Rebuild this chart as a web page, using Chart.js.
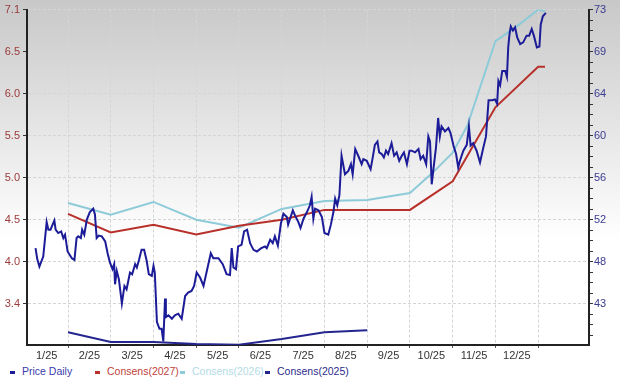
<!DOCTYPE html>
<html>
<head>
<meta charset="utf-8">
<style>
    html, body { margin: 0; padding: 0; background: #fff; }
    #wrap { position: relative; width: 620px; height: 379px; overflow: hidden;
            background: linear-gradient(#c8c8c8 0px, #ffffff 240px); }
    #chartBox { position: absolute; left: 0; top: 0; width: 620px; height: 362px; }
    #legend { position: absolute; left: 0; top: 362px; width: 620px; height: 17px;
              font: 10.5px "Liberation Sans", Arial, sans-serif; }
    #legend .item { position: absolute; top: 3px; white-space: nowrap; line-height: 12px; }
    #legend .mark { display: inline-block; width: 5px; height: 3px; vertical-align: middle; margin-right: 7px; }
</style>
</head>
<body>
<div id="wrap">
    <div id="chartBox"><canvas id="priceConsensusChart" width="620" height="362"></canvas></div>
    <div id="legend"></div>
</div>
<script src="https://cdn.jsdelivr.net/npm/chart.js"></script>
<script>
    // x positions are in months from 1 Jan 2025 (1 = start of Feb, ...)
    const monthLabels = ['1/25', '2/25', '3/25', '4/25', '5/25', '6/25', '7/25', '8/25', '9/25', '10/25', '11/25', '12/25'];
    const leftTickLabels = ['3.4', '4.0', '4.5', '5.0', '5.5', '6.0', '6.5', '7.1'];
    const rightTickLabels = ['43', '48', '52', '56', '60', '64', '69', '73'];

    const priceMonths = [0.24, 0.28, 0.33, 0.42, 0.50, 0.54, 0.59, 0.68, 0.71, 0.77,
        0.84, 0.89, 0.93, 0.99, 1.09, 1.15, 1.20, 1.24, 1.30, 1.33,
        1.38, 1.44, 1.51, 1.59, 1.63, 1.67, 1.72, 1.79, 1.87, 1.93,
        1.98, 2.04, 2.08, 2.10, 2.14, 2.19, 2.26, 2.32, 2.37, 2.45,
        2.50, 2.57, 2.61, 2.66, 2.72, 2.78, 2.84, 2.89, 2.96, 3.00,
        3.03, 3.08, 3.14, 3.19, 3.23, 3.27, 3.29, 3.35, 3.43, 3.50,
        3.58, 3.66, 3.74, 3.81, 3.89, 3.95, 4.01, 4.09, 4.17, 4.24,
        4.34, 4.40, 4.52, 4.62, 4.71, 4.79, 4.83, 4.87, 4.93, 4.98,
        5.06, 5.12, 5.19, 5.26, 5.34, 5.42, 5.52, 5.61, 5.65, 5.73,
        5.79, 5.84, 5.91, 5.98, 6.04, 6.12, 6.15, 6.26, 6.31, 6.39,
        6.44, 6.51, 6.59, 6.66, 6.70, 6.74, 6.78, 6.86, 6.94, 7.00,
        7.09, 7.15, 7.21, 7.25, 7.30, 7.35, 7.40, 7.48, 7.56, 7.62,
        7.66, 7.72, 7.79, 7.87, 7.91, 7.99, 8.08, 8.13, 8.18, 8.24,
        8.28, 8.34, 8.39, 8.44, 8.49, 8.57, 8.63, 8.69, 8.75, 8.81,
        8.86, 8.93, 8.99, 9.04, 9.12, 9.20, 9.25, 9.31, 9.38, 9.43,
        9.47, 9.51, 9.55, 9.61, 9.66, 9.70, 9.74, 9.82, 9.90, 9.95,
        10.02, 10.08, 10.13, 10.17, 10.25, 10.33, 10.38, 10.42, 10.48, 10.56,
        10.64, 10.71, 10.78, 10.84, 10.92, 10.99, 11.04, 11.07, 11.11, 11.16,
        11.23, 11.27, 11.30, 11.33, 11.36, 11.41, 11.46, 11.51, 11.58, 11.65,
        11.73, 11.79, 11.85, 11.90, 11.97, 12.03, 12.06, 12.11, 12.18];
    const priceDaily = [4.16, 4.03, 3.94, 4.06, 4.47, 4.38, 4.38, 4.49, 4.38, 4.34,
        4.36, 4.28, 4.32, 4.12, 4.04, 4.02, 4.28, 4.30, 4.28, 4.38,
        4.32, 4.50, 4.59, 4.63, 4.56, 4.28, 4.31, 4.30, 4.24, 4.09,
        3.99, 3.91, 3.97, 3.73, 3.89, 3.79, 3.50, 3.71, 3.67, 3.87,
        3.85, 3.97, 3.93, 4.02, 4.14, 4.14, 4.01, 3.85, 3.83, 3.95,
        3.87, 3.28, 3.20, 3.20, 3.05, 3.56, 3.34, 3.36, 3.32, 3.36,
        3.38, 3.32, 3.59, 3.63, 3.65, 3.71, 3.87, 3.81, 3.71, 3.87,
        4.10, 4.04, 4.04, 3.97, 3.85, 3.84, 4.16, 3.93, 3.91, 4.18,
        4.20, 4.36, 4.38, 4.22, 4.14, 4.12, 4.16, 4.18, 4.16, 4.26,
        4.22, 4.30, 4.19, 4.45, 4.57, 4.53, 4.44, 4.61, 4.55, 4.47,
        4.40, 4.51, 4.59, 4.67, 4.77, 4.51, 4.63, 4.61, 4.53, 4.34,
        4.32, 4.44, 4.59, 4.75, 4.67, 4.79, 5.26, 5.04, 5.08, 5.16,
        5.04, 5.34, 5.26, 5.16, 5.22, 5.20, 5.10, 5.24, 5.39, 5.43,
        5.30, 5.28, 5.24, 5.32, 5.28, 5.41, 5.26, 5.30, 5.20, 5.26,
        5.30, 5.16, 5.32, 5.32, 5.30, 5.34, 5.22, 5.26, 5.16, 5.49,
        5.43, 4.92, 5.10, 5.36, 5.71, 5.49, 5.61, 5.55, 5.59, 5.53,
        5.38, 5.28, 5.12, 5.20, 5.32, 5.39, 5.61, 5.38, 5.41, 5.32,
        5.18, 5.34, 5.49, 5.92, 5.92, 5.93, 5.88, 6.15, 6.10, 6.27,
        6.27, 6.20, 6.55, 6.71, 6.80, 6.75, 6.79, 6.67, 6.59, 6.61,
        6.69, 6.69, 6.77, 6.69, 6.55, 6.56, 6.82, 6.92, 6.96];

    const consensMonths2027 = [1, 2, 3, 4, 5, 6, 7, 8, 9, 10, 11, 12, 12.16];
    const consens2027 = [52.16, 50.25, 51.05, 50.05, 50.95, 51.56, 52.56, 52.56, 52.56, 55.48, 63.03, 67.16, 67.16];

    const consensMonths2026 = [1, 2, 3, 4, 5, 6, 7, 8, 9, 9.54, 10, 10.34, 11, 11.5, 12, 12.16];
    const consens2026 = [53.27, 52.06, 53.37, 51.56, 50.75, 52.66, 53.47, 53.57, 54.28, 56.39, 58.40, 61.12, 69.78, 71.29, 73.0, 72.8];

    const consensMonths2025 = [1, 2, 3, 4, 5, 6, 7, 8];
    const consens2025 = [40.08, 39.07, 39.07, 38.87, 38.80, 39.38, 40.08, 40.28];

    (() => {
        const tickFont = { family: '"Liberation Sans", Arial, sans-serif', size: 11 };
        const gridColour = '#d5d5d5';

        function toPoints(xs, ys) {
            return xs.map((x, i) => ({ x: x, y: ys[i] }));
        }

        const datasets = [
            { label: 'Price Daily', data: toPoints(priceMonths, priceDaily), yAxisID: 'y',
              borderColor: '#1c1c98', borderWidth: 2, legendText: '#3a3aab' },
            { label: 'Consens(2027)', data: toPoints(consensMonths2027, consens2027), yAxisID: 'y2',
              borderColor: '#b8302a', borderWidth: 2, legendText: '#c0413b' },
            { label: 'Consens(2026)', data: toPoints(consensMonths2026, consens2026), yAxisID: 'y2',
              borderColor: '#8ecbd9', borderWidth: 2, legendText: '#b3dbe5' },
            { label: 'Consens(2025)', data: toPoints(consensMonths2025, consens2025), yAxisID: 'y2',
              borderColor: '#25258f', borderWidth: 2, legendText: '#2b2b8c' }
        ];
        datasets.forEach(d => { d.pointRadius = 0; d.tension = 0; d.fill = false; });

        const ctx = document.getElementById('priceConsensusChart').getContext('2d');
        const chart = new Chart(ctx, {
            type: 'line',
            data: { datasets: datasets },
            options: {
                responsive: false,
                animation: false,
                devicePixelRatio: 1,
                layout: { padding: { top: 5, left: 0, right: 0, bottom: 0 } },
                plugins: { legend: { display: false }, tooltip: { enabled: false } },
                scales: {
                    x: {
                        type: 'linear',
                        min: 0.04,
                        max: 13.19,
                        afterBuildTicks: scale => {
                            const ticks = [];
                            for (let k = 0; k < monthLabels.length; k++) {
                                ticks.push({ value: k + 0.5 });
                                ticks.push({ value: k + 1 });
                            }
                            scale.ticks = ticks;
                        },
                        afterFit: scale => { scale.height = 17; },
                        ticks: {
                            autoSkip: false, maxRotation: 0, padding: 1,
                            color: '#333', font: tickFont,
                            callback: value => Number.isInteger(value) ? '' : monthLabels[Math.floor(value)]
                        },
                        grid: {
                            color: c => (c.tick && Number.isInteger(c.tick.value)) ? gridColour : 'rgba(0,0,0,0)',
                            tickColor: c => (c.tick && Number.isInteger(c.tick.value)) ? '#555' : 'rgba(0,0,0,0)',
                            tickLength: 3
                        },
                        border: { color: '#222', width: 2, dash: [3, 2] }
                    },
                    y: {
                        position: 'left',
                        min: 3.007,
                        max: 7.0,
                        afterBuildTicks: scale => {
                            scale.ticks = leftTickLabels.map((_, i) => ({ value: 3.5 + 0.5 * i }));
                        },
                        afterFit: scale => { scale.width = 27; },
                        ticks: {
                            autoSkip: false, padding: 3,
                            color: '#9b3a3a', font: tickFont,
                            callback: (value, index) => leftTickLabels[index]
                        },
                        grid: { color: gridColour, tickColor: '#333', tickLength: 4 },
                        border: { color: '#222', width: 2, dash: [3, 2] }
                    },
                    y2: {
                        position: 'right',
                        min: 38.77,
                        max: 73,
                        afterBuildTicks: scale => {
                            const step = 30 / 28;
                            const ticks = [];
                            for (let i = -3; i <= 28; i++) ticks.push({ value: 43 + i * step });
                            scale.ticks = ticks;
                        },
                        afterFit: scale => { scale.width = 31; },
                        ticks: {
                            autoSkip: false, padding: 1,
                            color: '#3b3b92', font: tickFont,
                            callback: (value, index) => {
                                const k = index - 3;
                                return (k >= 0 && k % 4 === 0) ? rightTickLabels[k / 4] : '';
                            }
                        },
                        grid: { drawOnChartArea: false, tickColor: '#333', tickLength: 4 },
                        border: { color: '#222', width: 2 }
                    }
                }
            }
        });

        // legend below the chart, fixed columns like the original
        const legend = document.getElementById('legend');
        chart.data.datasets.forEach((d, i) => {
            const item = document.createElement('span');
            item.className = 'item';
            item.style.left = (10 + i * 85) + 'px';
            item.style.color = d.legendText;
            const mark = document.createElement('span');
            mark.className = 'mark';
            mark.style.background = d.borderColor;
            item.appendChild(mark);
            item.appendChild(document.createTextNode(d.label));
            legend.appendChild(item);
        });
    })();
</script>
</body>
</html>
